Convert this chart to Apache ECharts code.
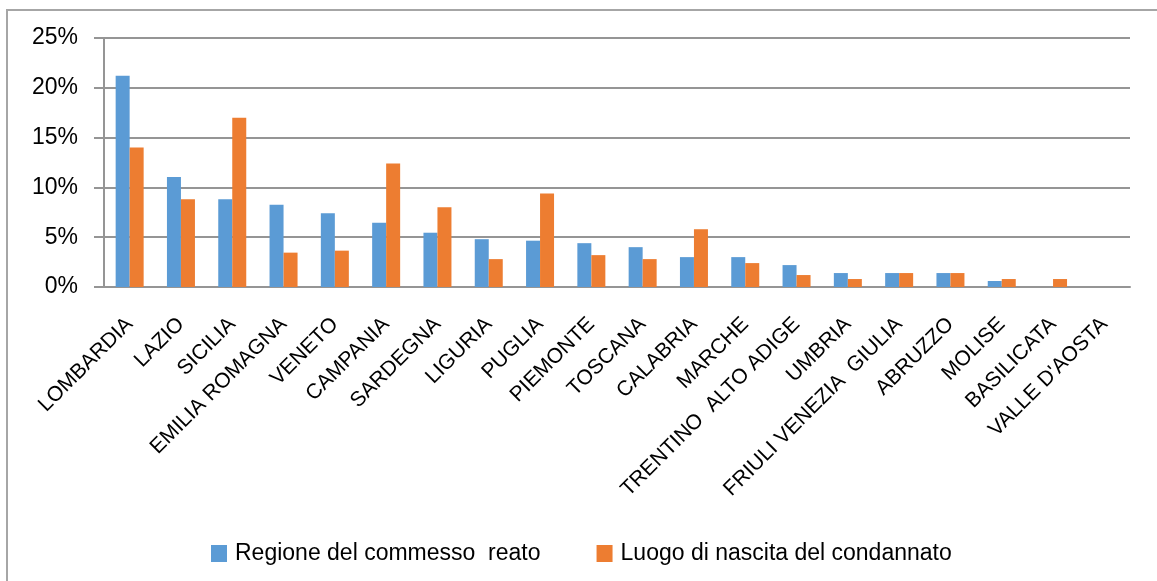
<!DOCTYPE html>
<html>
<head>
<meta charset="utf-8">
<script src="https://cdn.jsdelivr.net/npm/echarts@6/dist/echarts.min.js"></script>
<style>
  html, body { margin: 0; padding: 0; background: #fff; }
  #chart { width: 1157px; height: 581px; }
</style>
</head>
<body>
<div id="chart"></div>
<script>
  // regioni, in ordine come nel grafico
  const regioni = ['LOMBARDIA', 'LAZIO', 'SICILIA', 'EMILIA ROMAGNA', 'VENETO', 'CAMPANIA', 'SARDEGNA',
    'LIGURIA', 'PUGLIA', 'PIEMONTE', 'TOSCANA', 'CALABRIA', 'MARCHE', 'TRENTINO  ALTO ADIGE', 'UMBRIA',
    'FRIULI VENEZIA  GIULIA', 'ABRUZZO', 'MOLISE', 'BASILICATA', "VALLE D'AOSTA"]
  // valori in percentuale
  const commessoReato = [21.2, 11.05, 8.8, 8.25, 7.4, 6.45, 5.45, 4.8, 4.65, 4.4, 4.0, 3.0, 3.0, 2.2, 1.4, 1.4, 1.4, 0.6, 0, 0]
  const luogoNascita = [14.0, 8.8, 17.0, 3.45, 3.65, 12.4, 8.0, 2.8, 9.4, 3.2, 2.8, 5.8, 2.4, 1.2, 0.8, 1.4, 1.4, 0.8, 0.8, 0]
  const seriesNames = ['Regione del commesso  reato', 'Luogo di nascita del condannato']

  let chart = echarts.init(document.getElementById('chart'))
  let gridColor = '#959595'
  let option = {
    animation: false,
    color: ['#5b9bd5', '#ed7d31'],
    textStyle: {fontFamily: 'Liberation Sans', color: '#000'},
    grid: {left: 104, right: 27, top: 38, bottom: 294},
    legend: {
      left: 206, top: 537,
      itemWidth: 16, itemHeight: 17, itemGap: 56,
      icon: 'rect',
      textStyle: {fontFamily: 'Liberation Sans', fontSize: 23, color: '#000', padding: [0, 0, 0, 3]},
      data: seriesNames
    },
    xAxis: {
      type: 'category',
      data: regioni,
      axisLine: {lineStyle: {color: gridColor, width: 2}},
      axisTick: {length: 9, lineStyle: {color: gridColor, width: 2}},
      axisLabel: {rotate: 45, fontSize: 21, color: '#000', margin: 34, interval: 0}
    },
    yAxis: {
      type: 'value',
      min: 0, max: 25, interval: 5,
      axisLine: {show: true, lineStyle: {color: gridColor, width: 2}},
      axisTick: {show: true, length: 10, lineStyle: {color: gridColor, width: 2}},
      axisLabel: {formatter: '{value}%', fontSize: 23, color: '#000', margin: 26},
      splitLine: {lineStyle: {color: gridColor, width: 2}}
    },
    series: [
      {name: seriesNames[0], type: 'bar', data: commessoReato, barWidth: 14, barGap: '0%'},
      {name: seriesNames[1], type: 'bar', data: luogoNascita, barWidth: 14, barGap: '0%'}
    ],
    graphic: [
      {type: 'polyline', shape: {points: [[7, 600], [7, 10], [1170, 10]]}, style: {stroke: '#a6a6a6', lineWidth: 2, fill: null}}
    ]
  }
  chart.setOption(option)
</script>
</body>
</html>
